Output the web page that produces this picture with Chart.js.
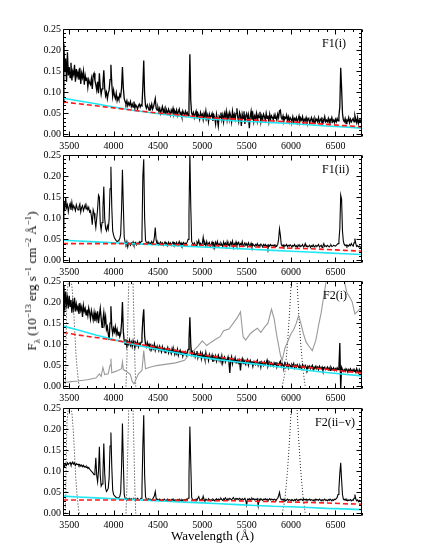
<!DOCTYPE html>
<html><head><meta charset="utf-8">
<script src="https://cdn.jsdelivr.net/npm/chart.js@4.4.1/dist/chart.umd.min.js"></script>
<style>
html,body{margin:0;padding:0;background:#fff;overflow:hidden;width:425px;height:550px;position:relative}
canvas.panel{position:absolute;left:0}
#ytitle{position:absolute;left:32px;top:281px;transform:translate(-50%,-50%) rotate(-90deg);white-space:nowrap;font:13px "Liberation Serif",serif;color:#000}
#ytitle sup,#ytitle sub{font-size:9px;line-height:0}
</style></head><body>
<canvas id="c0" class="panel" width="425" height="136" style="top:19px"></canvas>
<canvas id="c1" class="panel" width="425" height="136" style="top:145px"></canvas>
<canvas id="c2" class="panel" width="425" height="136" style="top:271px"></canvas>
<canvas id="c3" class="panel" width="425" height="150" style="top:398px"></canvas>
<div id="ytitle">F<sub>λ</sub> (10<sup>−13</sup> erg s<sup>−1</sup> cm<sup>−2</sup> Å<sup>−1</sup>)</div>
<script>
// ---------------- DATA ----------------
// spectra sampled on a regular wavelength grid (Å)
const waveStart = 3430, waveStep = 10;
const xTickValues = [3500, 4000, 4500, 5000, 5500, 6000, 6500];
const yTickValues = [0.00, 0.05, 0.10, 0.15, 0.20, 0.25];
const panelLabels = ['F1(i)', 'F1(ii)', 'F2(i)', 'F2(ii\u2212v)'];

// F1(i)
const f1i = [
.075,.215,.150,.180,.125,.195,.140,
.160,.135,.170,.128,.150,.142,.165,.125,.155,.138,
.148,.130,.158,.120,.145,.135,.150,.118,.140,.128,
.135,.112,.130,.122,.118,.132,.108,.140,.145,.128,
.118,.105,.125,.098,.145,.112,.095,.108,.122,.152,
.110,.092,.100,.085,.098,.105,.130,.165,.120,.090,
.105,.092,.085,.098,.080,.088,.082,.095,.090,.110,
.160,.110,.085,.078,.072,.080,.068,.075,.070,.078,
.066,.072,.065,.078,.062,.070,.066,.060,.068,.072,
.065,.070,.068,.115,.175,.095,.068,.062,.070,.064,
.058,.068,.062,.072,.060,.066,.075,.085,.062,.058,
.064,.055,.062,.050,.058,.066,.052,.060,.048,.062,
.056,.050,.060,.054,.046,.058,.052,.062,.048,.055,
.050,.058,.045,.054,.060,.048,.052,.042,.056,.050,
.046,.055,.048,.052,.044,.070,.190,.080,.050,.046,
.052,.040,.048,.055,.038,.050,.045,.036,.052,.044,
.048,.035,.050,.042,.056,.038,.046,.030,.048,.040,
.044,.050,.032,.046,.040,.025,.048,.036,.020,.044,
.040,.052,.035,.046,.030,.050,.042,.055,.034,.048,
.038,.052,.044,.030,.055,.040,.048,.036,.050,.062,
.040,.030,.052,.045,.020,.048,.038,.055,.025,.044,
.050,.036,.046,.015,.042,.055,.035,.048,.030,.044,
.038,.050,.032,.046,.040,.054,.030,.044,.036,.048,
.042,.034,.050,.038,.045,.030,.048,.036,.044,.040,
.035,.046,.038,.042,.034,.048,.040,.056,.058,.040,
.036,.044,.032,.040,.038,.046,.034,.042,.030,.040,
.036,.032,.042,.030,.038,.034,.040,.028,.036,.044,
.030,.038,.034,.042,.028,.036,.032,.040,.030,.035,
.038,.028,.034,.040,.030,.036,.026,.038,.032,.036,
.030,.040,.028,.034,.038,.026,.036,.032,.042,.030,
.034,.030,.038,.028,.036,.032,.040,.030,.034,.028,
.036,.030,.038,.032,.045,.065,.158,.110,.050,.034,
.030,.038,.026,.034,.032,.040,.028,.036,.030,.034,
.038,.030,.045,.036,.028,.040,.026,.034,.030,.036,
.028];

// F1(ii)
const f1ii = [
.075,.140,.118,.150,.125,.132,.115,
.128,.135,.120,.138,.122,.130,.125,.118,.132,.124,
.120,.128,.134,.115,.126,.130,.118,.125,.132,.122,
.128,.120,.126,.115,.118,.105,.085,.120,.112,.095,
.078,.100,.122,.155,.150,.088,.072,.090,.125,.175,
.100,.076,.070,.082,.074,.098,.170,.222,.125,.070,
.060,.054,.050,.047,.045,.046,.048,.052,.062,.120,
.215,.130,.055,.044,.038,.045,.032,.042,.040,.036,
.042,.038,.044,.036,.040,.043,.037,.041,.039,.044,
.040,.045,.060,.200,.240,.100,.048,.042,.040,.044,
.038,.042,.040,.045,.039,.043,.055,.078,.048,.040,
.043,.037,.041,.044,.038,.042,.036,.040,.044,.039,
.041,.035,.043,.038,.042,.036,.040,.044,.037,.041,
.038,.043,.036,.040,.045,.038,.042,.035,.040,.043,
.037,.041,.039,.044,.050,.110,.255,.130,.045,.040,
.036,.042,.038,.035,.044,.040,.048,.037,.041,.036,
.040,.055,.038,.042,.034,.045,.036,.040,.043,.033,
.038,.044,.035,.041,.030,.043,.037,.045,.034,.040,
.036,.042,.038,.033,.044,.037,.041,.032,.045,.036,
.040,.034,.043,.038,.046,.031,.040,.036,.044,.035,
.039,.043,.034,.040,.037,.045,.033,.038,.042,.036,
.040,.033,.042,.037,.035,.041,.032,.039,.036,.034,
.038,.035,.040,.033,.037,.034,.039,.036,.032,.038,
.035,.038,.033,.036,.028,.037,.034,.038,.035,.036,
.034,.037,.033,.036,.034,.038,.050,.075,.060,.038,
.034,.037,.032,.036,.035,.038,.033,.036,.034,.037,
.035,.032,.036,.034,.038,.033,.035,.031,.037,.034,
.036,.033,.035,.038,.032,.034,.040,.033,.035,.032,
.034,.036,.031,.035,.033,.037,.032,.034,.036,.033,
.035,.038,.032,.034,.036,.031,.035,.040,.033,.035,
.033,.036,.034,.032,.035,.037,.033,.034,.036,.035,
.034,.036,.038,.040,.048,.075,.155,.145,.070,.045,
.038,.035,.037,.033,.036,.034,.038,.035,.040,.036,
.034,.042,.052,.040,.033,.035,.032,.034,.031,.033,
.035];

// F2(i)
const f2i = [
.170,.240,.180,.225,.195,.210,.185,
.215,.190,.205,.175,.200,.185,.210,.178,.195,.182,
.190,.172,.198,.180,.188,.165,.192,.178,.185,.170,
.182,.168,.186,.175,.160,.180,.170,.158,.175,.155,
.172,.160,.178,.150,.168,.185,.162,.140,.158,.175,
.150,.165,.135,.142,.125,.110,.150,.190,.140,.125,
.138,.130,.142,.125,.135,.122,.130,.118,.125,.150,
.200,.130,.108,.100,.112,.095,.106,.100,.110,.098,
.105,.095,.108,.100,.092,.104,.098,.106,.094,.102,
.098,.105,.120,.160,.183,.120,.100,.094,.104,.096,
.100,.092,.098,.088,.096,.090,.100,.086,.094,.090,
.092,.085,.095,.088,.082,.094,.086,.090,.080,.088,
.086,.092,.080,.088,.084,.078,.090,.082,.086,.076,
.084,.078,.088,.074,.082,.086,.076,.084,.072,.080,
.078,.082,.074,.080,.088,.110,.164,.100,.076,.082,
.074,.080,.070,.078,.084,.068,.076,.072,.080,.066,
.078,.070,.074,.064,.080,.068,.072,.062,.076,.070,
.066,.074,.058,.070,.064,.072,.060,.068,.074,.062,
.068,.060,.072,.056,.066,.070,.058,.064,.062,.070,
.058,.032,.062,.070,.054,.064,.060,.068,.056,.062,
.064,.056,.062,.038,.060,.066,.054,.062,.058,.052,
.060,.064,.050,.058,.062,.054,.060,.048,.058,.056,
.052,.058,.062,.050,.056,.060,.046,.058,.054,.050,
.058,.052,.056,.062,.048,.054,.058,.050,.056,.052,
.048,.056,.052,.058,.046,.054,.050,.056,.060,.048,
.054,.050,.046,.056,.052,.048,.054,.044,.052,.050,
.046,.052,.048,.054,.044,.050,.046,.052,.048,.044,
.050,.046,.042,.052,.048,.044,.050,.046,.040,.048,
.044,.048,.042,.046,.050,.040,.046,.044,.048,.042,
.046,.040,.048,.044,.042,.046,.038,.044,.046,.040,
.042,.046,.040,.044,.038,.046,.042,.040,.044,.038,
.042,.038,.044,.040,.046,.103,-.005,.045,.040,.036,
.040,.036,.042,.038,.034,.040,.036,.042,.038,.035,
.040,.036,.038,.034,.042,.036,.032,.040,.035,.038,
.036];

// F2(ii-v)
const f2iiv = [
.110,.116,.112,.118,.114,.120,.116,
.119,.121,.115,.118,.122,.117,.120,.114,.118,.116,
.117,.113,.116,.112,.115,.111,.114,.110,.112,.109,
.111,.107,.109,.105,.103,.100,.098,.095,.092,.100,
.132,.090,.075,.100,.158,.090,.065,.070,.095,.166,
.095,.060,.052,.055,.060,.085,.160,.192,.110,.055,
.045,.042,.040,.038,.037,.036,.038,.040,.050,.110,
.213,.120,.045,.036,.034,.033,.035,.034,.036,.033,
.035,.034,.033,.035,.032,.034,.033,.036,.034,.033,
.034,.036,.060,.160,.233,.090,.040,.034,.033,.035,
.032,.034,.033,.031,.034,.038,.042,.052,.036,.032,
.033,.031,.034,.032,.030,.033,.031,.034,.032,.030,
.032,.034,.031,.033,.030,.032,.034,.031,.033,.030,
.032,.030,.033,.031,.034,.032,.030,.033,.031,.032,
.033,.031,.034,.032,.036,.090,.206,.120,.038,.033,
.031,.033,.030,.034,.032,.036,.040,.033,.031,.034,
.032,.041,.033,.030,.034,.032,.031,.035,.033,.030,
.033,.031,.034,.032,.030,.033,.035,.031,.034,.032,
.034,.036,.033,.031,.035,.033,.037,.034,.032,.035,
.033,.036,.034,.032,.035,.038,.034,.033,.036,.034,
.035,.033,.036,.034,.032,.035,.033,.034,.036,.031,
.020,.034,.033,.035,.032,.034,.036,.033,.035,.032,
.034,.033,.035,.018,.034,.032,.035,.033,.031,.034,
.033,.035,.032,.034,.031,.033,.035,.032,.034,.033,
.032,.034,.033,.031,.034,.036,.042,.050,.038,.033,
.032,.034,.031,.033,.030,.032,.034,.031,.033,.032,
.031,.033,.032,.030,.033,.031,.034,.032,.030,.033,
.032,.034,.033,.031,.035,.033,.032,.034,.031,.033,
.032,.034,.031,.033,.032,.030,.033,.031,.034,.032,
.033,.031,.034,.032,.030,.033,.031,.032,.034,.031,
.032,.030,.033,.031,.034,.032,.030,.033,.031,.034,
.033,.035,.038,.045,.060,.095,.120,.080,.045,.034,
.032,.034,.031,.033,.030,.032,.031,.033,.030,.032,
.031,.036,.045,.034,.030,.032,.028,.031,.029,.030,
.028];

// model continua (red dashed, cyan solid)
const contWave = [3430,3600,3800,4000,4200,4400,4600,4800,5000,5200,5400,5600,5800,6000,6200,6400,6600,6800];
const red1  = [.077,.073,.068,.063,.058,.053,.049,.045,.041,.038,.036,.034,.032,.030,.027,.024,.021,.018];
const cyan1 = [.086,.080,.073,.065,.058,.052,.047,.042,.038,.035,.032,.030,.028,.026,.023,.020,.018,.015];
const red2  = [.040,.040,.040,.040,.040,.039,.038,.037,.036,.035,.034,.032,.031,.029,.028,.026,.024,.022];
const cyan2 = [.048,.046,.044,.042,.040,.038,.036,.034,.032,.030,.028,.026,.024,.022,.020,.018,.016,.014];
const red3  = [.128,.122,.116,.110,.103,.096,.089,.082,.075,.069,.064,.059,.054,.049,.045,.041,.036,.032];
const cyan3 = [.143,.134,.122,.111,.101,.092,.084,.076,.069,.063,.058,.053,.048,.043,.038,.033,.029,.025];
const red4  = [.032,.032,.032,.032,.032,.032,.031,.031,.031,.030,.030,.029,.028,.027,.026,.025,.023,.022];
const cyan4 = [.041,.039,.037,.035,.033,.031,.029,.027,.025,.023,.021,.019,.017,.016,.014,.012,.011,.009];

// grey comparison spectrum (F2(i) panel)
const grayWave = [
3430,3500,3600,3700,3800,3840,3860,3880,3900,3940,
3960,3970,3980,4000,4050,4090,4100,4110,4150,4190,
4210,4230,4280,4320,4340,4360,4400,4450,4500,4600,
4700,4800,4850,4860,4870,4900,4950,5000,5050,5100,
5150,5200,5240,5300,5350,5400,5430,5460,5490,5540,
5580,5620,5660,5700,5740,5780,5810,5840,5880,5900,
5930,5970,6000,6030,6060,6085,6110,6140,6170,6200,
6240,6280,6310,6340,6370,6400,6450,6500,6550,6600,
6630,6660,6690,6720,6750,6780,6800];
const grayFlux = [
.010,.011,.013,.016,.020,.030,.024,.045,.028,.030,
.050,.066,.032,.034,.038,.042,.058,.040,.035,.028,
.012,.006,.030,.038,.085,.042,.045,.048,.050,.053,
.056,.062,.075,.110,.080,.085,.095,.108,.097,.105,
.112,.118,.132,.136,.150,.165,.177,.118,.110,.125,
.132,.138,.128,.140,.150,.183,.160,.120,.075,.061,
.090,.110,.125,.135,.150,.168,.150,.125,.105,.096,
.085,.110,.144,.175,.215,.255,.275,.285,.270,.250,
.222,.212,.200,.172,.178,.185,.176];

// filter transmission curves (dotted)
const filt1Wave = [3455,3462,3468,3475,3490,3510,3530,3545,3560,3575,3590,3605,3615];
const filt1     = [0,.05,.15,.22,.248,.252,.24,.20,.14,.08,.04,.01,0];
const filt2Wave = [4140,4150,4160,4170,4180,4210,4220,4230,4240,4250];
const filt2     = [0,.06,.15,.24,.30,.30,.24,.15,.06,0];
const filt3Wave = [5900,5930,5960,5985,6005,6020,6050,6065,6085,6110,6135,6160];
const filt3     = [0,.03,.10,.18,.26,.30,.30,.26,.18,.10,.04,0];

// ---------------- CHART ----------------
const SERIF = '"Liberation Serif","Times New Roman",serif';
Chart.defaults.font.family = SERIF;
Chart.defaults.color = '#000';

const gridWave = f1i.map((_, i) => waveStart + i * waveStep);
const pts = (xs, ys) => ys.map((v, i) => ({x: xs[i], y: v}));

const deco = {
  id: 'deco',
  afterDatasetsDraw(chart, args, o) {
    const {ctx, chartArea: a, scales: {x, y}} = chart;
    ctx.save();
    ctx.strokeStyle = '#000';
    ctx.lineWidth = 1;
    const L = Math.round(a.left) + 0.5, R = Math.round(a.right) - 0.5;
    const T = Math.round(a.top) + 0.5, B = Math.round(a.bottom) - 0.5;
    ctx.beginPath();
    ctx.rect(L, T, R - L, B - T);
    for (let v = 3500; v <= x.max; v += 100) {
      const px = Math.round(x.getPixelForValue(v)) + 0.5;
      const len = (v % 500 === 0) ? 5 : 2.5;
      ctx.moveTo(px, B); ctx.lineTo(px, B - len);
      ctx.moveTo(px, T); ctx.lineTo(px, T + len);
    }
    for (let k = 0; k <= 25; k++) {
      const py = Math.round(y.getPixelForValue(k / 100)) + 0.5;
      const len = (k % 5 === 0) ? 5 : 2.5;
      ctx.moveTo(L, py); ctx.lineTo(L + len, py);
      ctx.moveTo(R, py); ctx.lineTo(R - len, py);
    }
    ctx.stroke();
    ctx.fillStyle = '#000';
    ctx.font = '12px ' + SERIF;
    ctx.textAlign = 'left';
    ctx.textBaseline = 'alphabetic';
    ctx.fillText(o.label, o.lx, a.top + 18);
    ctx.restore();
  }
};

function line(xs, ys, color, width, dash) {
  return {data: pts(xs, ys), borderColor: color, borderWidth: width, borderDash: dash || [],
          pointRadius: 0, pointHoverRadius: 0, fill: false, tension: 0, clip: 0, spanGaps: true};
}

const panels = [
  {id: 'c0', h: 136, spec: f1i,   red: red1, cyan: cyan1, lx: 322, bw: 1.3, extra: false, last: false},
  {id: 'c1', h: 136, spec: f1ii,  red: red2, cyan: cyan2, lx: 322, bw: 1.1, extra: false, last: false},
  {id: 'c2', h: 136, spec: f2i,   red: red3, cyan: cyan3, lx: 323, bw: 1.3, extra: 'gray', last: false},
  {id: 'c3', h: 150, spec: f2iiv, red: red4, cyan: cyan4, lx: 315, bw: 1.1, extra: 'filt', last: true},
];

panels.forEach((p, idx) => {
  const ds = [
    line(contWave, p.red, '#ff1a1a', 1.6, [5, 3]),
    line(contWave, p.cyan, '#1fe6f2', 1.6),
    line(gridWave, p.spec, '#000000', p.bw),
  ];
  if (p.extra === 'gray') ds.push(line(grayWave, grayFlux, '#9a9a9a', 1.1));
  if (p.extra === 'gray' || p.extra === 'filt') {
    ds.push(line(filt1Wave, filt1, '#222', 1, [1, 2]));
    ds.push(line(filt2Wave, filt2, '#222', 1, [1, 2]));
    ds.push(line(filt3Wave, filt3, '#222', 1, [1, 2]));
  }
  const xAxisH = p.h - 10 - 108;
  new Chart(document.getElementById(p.id), {
    type: 'line',
    data: {datasets: ds},
    options: {
      responsive: false, animation: false, devicePixelRatio: 1, events: [],
      layout: {padding: {top: 10, right: 63, bottom: 0, left: 0}},
      plugins: {legend: {display: false}, tooltip: {enabled: false},
                deco: {label: panelLabels[idx], lx: p.lx}},
      scales: {
        x: {
          type: 'linear', min: 3430, max: 6800,
          grid: {display: false, drawTicks: false}, border: {display: false},
          afterBuildTicks: s => { s.ticks = xTickValues.map(v => ({value: v})); },
          afterFit: s => { s.height = xAxisH; },
          ticks: {autoSkip: false, maxRotation: 0, padding: 3, font: {size: 10, family: SERIF},
                  color: '#000', callback: v => String(v)},
          title: {display: p.last, text: 'Wavelength (\u00C5)', color: '#000',
                  font: {size: 13, family: SERIF}, padding: {top: 0, bottom: 4}}
        },
        y: {
          type: 'linear', min: -0.006, max: 0.25,
          grid: {display: false, drawTicks: false}, border: {display: false},
          afterBuildTicks: s => { s.ticks = yTickValues.map(v => ({value: v})); },
          afterFit: s => { s.width = 63; },
          ticks: {padding: 2, font: {size: 10, family: SERIF}, color: '#000',
                  callback: v => Number(v).toFixed(2)}
        }
      }
    },
    plugins: [deco]
  });
});
</script>
</body></html>
